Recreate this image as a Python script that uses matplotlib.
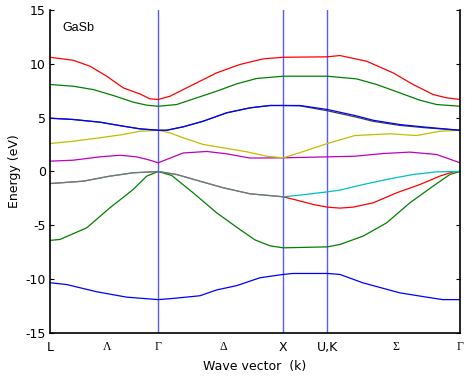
import numpy as np
import matplotlib
matplotlib.use('Agg')
import matplotlib.pyplot as plt

# high symmetry points along the path L - Gamma - X - U,K - Gamma
G1 = np.sqrt(3) / 2
X = G1 + 1.0
U = X + np.sqrt(2) / 4
G2 = U + 3 * np.sqrt(2) / 4

tick_pos = [0, 0.46, G1, 1.39, X, U, 2.77, G2]
tick_lab = ['L', 'Λ', 'Γ', 'Δ', 'X', 'U,K', 'Σ', 'Γ']
greek = ['Λ', 'Γ', 'Δ', 'Σ']

# bands (k, E in eV)
k_b1 = [0, 0.134, 0.374, 0.614, G1, 0.984, 1.2, 1.334, 1.494, 1.68, X, 1.944, U, 2.32, 2.504, 2.8, 3.014, 3.144, G2]
e_b1 = [-10.33, -10.5, -11.17, -11.67, -11.9, -11.79, -11.54, -11.0, -10.6, -9.87, -9.56, -9.47, -9.47, -9.56, -10.34, -11.27, -11.67, -11.9, -11.9]

k_b2 = [0, 0.08, 0.294, 0.48, 0.666, 0.774, G1, 0.974, 1.146, 1.334, 1.52, 1.64, 1.76, X, U, 2.32, 2.506, 2.694, 2.88, 3.066, 3.2, G2]
e_b2 = [-6.4, -6.31, -5.23, -3.37, -1.67, -0.43, 0, -0.37, -1.98, -3.84, -5.39, -6.35, -6.9, -7.09, -7.0, -6.78, -6.0, -4.77, -2.91, -1.36, -0.28, 0]

k_hh = [0, 0.266, 0.48, 0.666, G1, 1.014, 1.2, 1.386, 1.6, X]
e_hh = [-1.12, -0.9, -0.43, -0.12, 0, -0.28, -0.9, -1.51, -2.07, -2.35]

k_cy = [X, 1.974, U, 2.32, 2.506, 2.72, 2.906, 3.094, G2]
e_cy = [-2.35, -2.23, -1.89, -1.73, -1.21, -0.68, -0.28, -0.03, 0]

k_rd = [X, 1.974, 2.106, U, 2.32, 2.426, 2.586, 2.774, 2.96, 3.12, 3.226, G2]
e_rd = [-2.35, -2.66, -3.06, -3.31, -3.4, -3.31, -2.91, -1.98, -1.21, -0.43, -0.03, 0]

k_mg = [0, 0.186, 0.4, 0.56, 0.694, 0.8, G1, 1.066, 1.254, 1.414, 1.6, X, U, 2.44, 2.666, 2.88, 3.094, G2]
e_mg = [0.96, 1.05, 1.36, 1.51, 1.36, 1.05, 0.81, 1.72, 1.86, 1.64, 1.25, 1.27, 1.36, 1.42, 1.67, 1.8, 1.58, 0.81]

k_yl = [0, 0.186, 0.4, 0.586, 0.72, G1, 0.96, 1.066, 1.226, 1.386, 1.574, 1.734, X, 2.0, U, 2.44, 2.72, 2.934, 3.12, G2]
e_yl = [2.6, 2.81, 3.13, 3.44, 3.74, 3.83, 3.59, 3.13, 2.51, 2.2, 1.83, 1.42, 1.27, 1.75, 2.6, 3.34, 3.5, 3.34, 3.74, 3.83]

k_bl = [0, 0.186, 0.4, 0.586, 0.72, G1, 0.934, 1.066, 1.226, 1.414, 1.6, 1.76, X, 2.0, U, 2.44, 2.586, 2.8, 3.014, G2]
e_bl = [4.95, 4.83, 4.58, 4.21, 3.96, 3.83, 3.83, 4.15, 4.67, 5.45, 5.91, 6.13, 6.13, 6.13, 5.76, 5.2, 4.76, 4.36, 4.11, 3.83]
e_bk = [4.95, 4.83, 4.58, 4.21, 3.96, 3.83, 3.83, 4.15, 4.67, 5.45, 5.91, 6.13, 6.13, 6.1, 5.64, 5.08, 4.66, 4.28, 4.05, 3.83]

k_gr = [0, 0.186, 0.346, 0.506, 0.666, 0.774, G1, 1.014, 1.174, 1.334, 1.494, 1.654, X, U, 2.454, 2.614, 2.8, 2.96, 3.094, G2]
e_gr = [8.08, 7.92, 7.61, 7.06, 6.44, 6.16, 6.06, 6.22, 6.84, 7.46, 8.14, 8.64, 8.85, 8.85, 8.6, 8.08, 7.3, 6.62, 6.22, 6.06]

k_rt = [0, 0.186, 0.32, 0.454, 0.586, 0.72, 0.8, G1, 0.96, 1.12, 1.334, 1.52, 1.706, X, U, 2.32, 2.534, 2.746, 2.906, 3.066, 3.174, G2]
e_rt = [10.61, 10.33, 9.78, 8.85, 7.77, 7.2, 6.75, 6.69, 6.99, 7.92, 9.16, 9.94, 10.46, 10.61, 10.65, 10.77, 10.24, 9.16, 8.08, 7.15, 6.84, 6.69]

fig = plt.figure(figsize=(4.65, 3.77), dpi=100)
ax = fig.add_axes([0.1075, 0.1167, 0.8815, 0.8568])
plt.rcParams['font.family'] = ['Liberation Sans', 'DejaVu Sans']

lw = 0.9
for kk in [G1, X, U]:
    ax.axvline(kk, color='#5a5aff', lw=1.0, zorder=1)

ax.plot(k_b1, e_b1, color='#0000ff', lw=lw)
ax.plot(k_b2, e_b2, color='#008000', lw=lw)
ax.plot(k_hh, e_hh, color='#ff0000', lw=lw)
ax.plot(k_hh, e_hh, color='#00bfbf', lw=lw, alpha=0.7)
ax.plot(k_rd, e_rd, color='#ff0000', lw=lw)
ax.plot(k_cy, e_cy, color='#00bfbf', lw=lw)
ax.plot(k_mg, e_mg, color='#bf00bf', lw=lw)
ax.plot(k_yl, e_yl, color='#bfbf00', lw=lw)
ax.plot(k_bl, e_bk, color='#404040', lw=lw)
ax.plot(k_bl, e_bl, color='#0000ff', lw=lw)
ax.plot(k_gr, e_gr, color='#008000', lw=lw)
ax.plot(k_rt, e_rt, color='#ff0000', lw=lw)

ax.set_xlim(0, G2)
ax.set_ylim(-15, 15)
ax.set_yticks([-15, -10, -5, 0, 5, 10, 15])
ax.set_yticklabels(['-15', '-10', '-5', '0', '5', '10', '15'], fontsize=9)
ax.tick_params(axis='y', direction='in', length=3, width=0.8, right=True, pad=3)
ax.set_xticks(tick_pos)
ax.set_xticklabels(tick_lab, fontsize=9)
for t in ax.get_xticklabels():
    if t.get_text() in greek:
        t.set_family('Liberation Serif')
        t.set_fontsize(8.5)
ax.tick_params(axis='x', length=0, pad=6)
ax.spines['top'].set_visible(False)
for s in ['left', 'right', 'bottom']:
    ax.spines[s].set_linewidth(1.2)

ax.text(0.1, 13.3, 'GaSb', fontsize=9, va='center')
ax.set_xlabel('Wave vector  (k)', fontsize=9, labelpad=4)
ax.set_ylabel('Energy (eV)', fontsize=9, labelpad=3)

fig.savefig('out.png', dpi=100)
